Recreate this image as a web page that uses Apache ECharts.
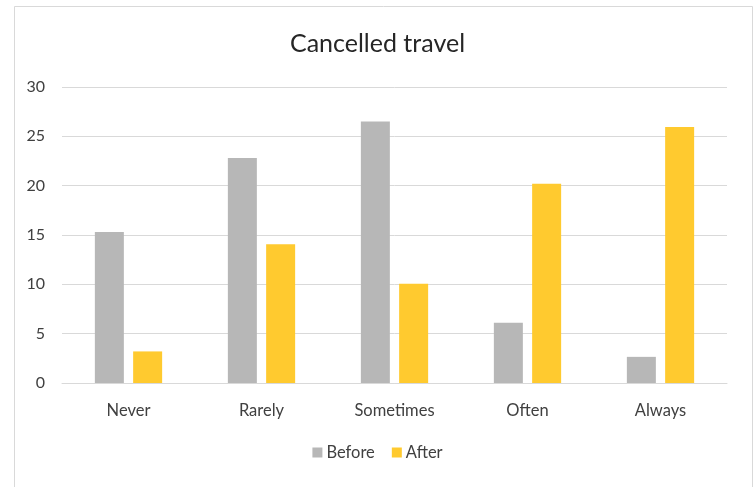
<!DOCTYPE html>
<html>
<head>
<meta charset="utf-8">
<script src="https://cdn.jsdelivr.net/npm/echarts@6/dist/echarts.min.js"></script>
<style>html,body{margin:0;padding:0;background:#fff}#c{width:755px;height:487px}</style>
</head>
<body>
<div id="c"></div>
<script>
const categories = ['Never', 'Rarely', 'Sometimes', 'Often', 'Always'];
const beforeValues = [15.3, 22.8, 26.5, 6.1, 2.65];
const afterValues = [3.2, 14.05, 10.05, 20.2, 25.95];
const yTicks = [0, 5, 10, 15, 20, 25, 30];

const FONT = 'Lato, "Open Sans", sans-serif';
const chart = echarts.init(document.getElementById('c'), null, {renderer: 'canvas'});
chart.setOption({
  animation: false,
  backgroundColor: '#ffffff',
  textStyle: {fontFamily: FONT},
  title: {
    text: 'Cancelled travel',
    left: 'center',
    top: 26,
    textStyle: {fontFamily: FONT, fontSize: 25, fontWeight: 'normal', color: '#262626'}
  },
  graphic: [{
    type: 'rect', left: 12, top: 4, silent: true, z: -1,
    shape: {width: 738, height: 481},
    style: {fill: 'none', stroke: '#d9d9d9', lineWidth: 1}
  }],
  legend: {
    data: ['Before', 'After'],
    bottom: 21,
    left: 'center',
    itemWidth: 10, itemHeight: 10, itemGap: 17,
    icon: 'rect',
    textStyle: {fontFamily: FONT, fontSize: 16.5, color: '#404040', padding: [0, 0, 0, -1]}
  },
  grid: {left: 62, right: 28, top: 87, bottom: 104, containLabel: false},
  xAxis: {
    type: 'category',
    data: categories,
    axisLine: {lineStyle: {color: '#d9d9d9', width: 1}},
    axisTick: {show: false},
    axisLabel: {fontFamily: FONT, fontSize: 16.5, color: '#404040', margin: 19}
  },
  yAxis: {
    type: 'value',
    min: yTicks[0], max: yTicks[yTicks.length - 1], interval: 5,
    axisLine: {show: false},
    axisTick: {show: false},
    splitLine: {lineStyle: {color: '#d9d9d9', width: 1}},
    axisLabel: {fontFamily: FONT, fontSize: 16, color: '#404040', margin: 17}
  },
  series: [
    {name: 'Before', type: 'bar', data: beforeValues, barWidth: 29, barGap: '32%',
     itemStyle: {color: '#b7b7b7'}},
    {name: 'After', type: 'bar', data: afterValues, barWidth: 29,
     itemStyle: {color: '#ffca2f'}}
  ]
});
</script>
</body>
</html>
